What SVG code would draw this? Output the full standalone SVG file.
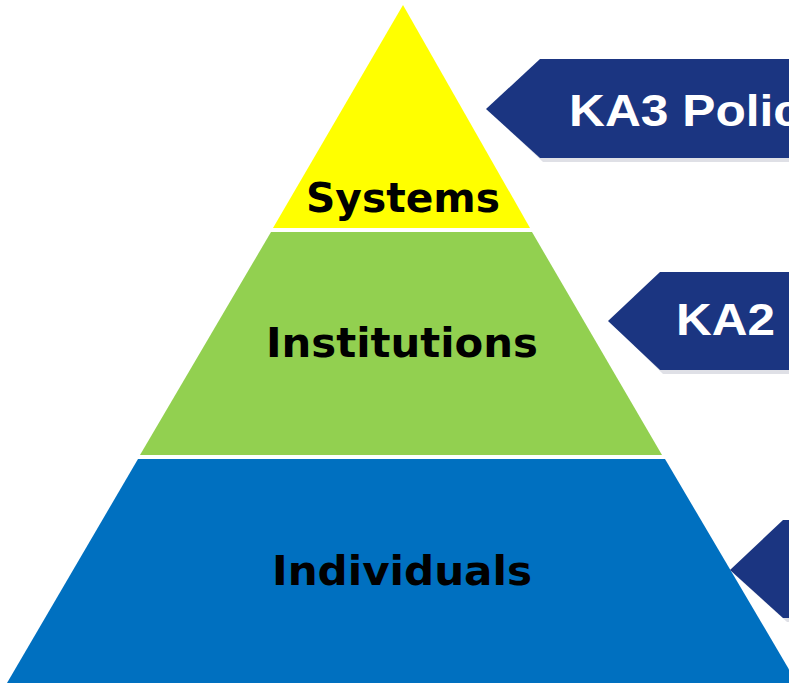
<svg xmlns="http://www.w3.org/2000/svg" width="789" height="683" viewBox="0 0 789 683">
<style>
.lbl{font-family:"DejaVu Sans",Verdana,sans-serif;font-weight:bold;font-size:40px;fill:#000;text-anchor:middle}
.ka{font-family:"Liberation Sans",Arial,sans-serif;font-weight:bold;font-size:45px;fill:#fff}
.arrow{fill:#1b3581}
.shadow{fill:#c9ccd6;opacity:0.6}
</style>
<rect width="789" height="683" fill="#fff"/>
<g id="systems">
<polygon points="403,5 530,228 273,228" fill="#ffff00"/>
<text class="lbl" x="403" y="212" textLength="194" lengthAdjust="spacingAndGlyphs">Systems</text>
</g>
<g id="institutions">
<polygon points="271,232 532,232 662,455 140,455" fill="#92d050"/>
<text class="lbl" x="402" y="357" textLength="272" lengthAdjust="spacingAndGlyphs">Institutions</text>
</g>
<g id="individuals">
<polygon points="138,459 665,459 797,683 7,683" fill="#0070c0"/>
<text class="lbl" x="402" y="585" textLength="260" lengthAdjust="spacingAndGlyphs">Individuals</text>
</g>
<g id="ka3">
<polygon class="shadow" points="490,112 543,63 795,63 795,162 543,162"/>
<polygon class="arrow" points="486,109 540,59 795,59 795,158 540,158"/>
<text class="ka" x="569" y="126" textLength="232" lengthAdjust="spacingAndGlyphs">KA3 Polic</text>
</g>
<g id="ka2">
<polygon class="shadow" points="612,324 663,276 795,276 795,374 663,374"/>
<polygon class="arrow" points="608,321 660,272 795,272 795,370 660,370"/>
<text class="ka" x="676" y="335" textLength="99" lengthAdjust="spacingAndGlyphs">KA2</text>
</g>
<g id="ka1">
<polygon class="shadow" points="734,574 787,524 795,524 795,622 787,622"/>
<polygon class="arrow" points="730,570 783,520 795,520 795,618 783,618"/>
</g>
<g id="connectors"></g>
</svg>
